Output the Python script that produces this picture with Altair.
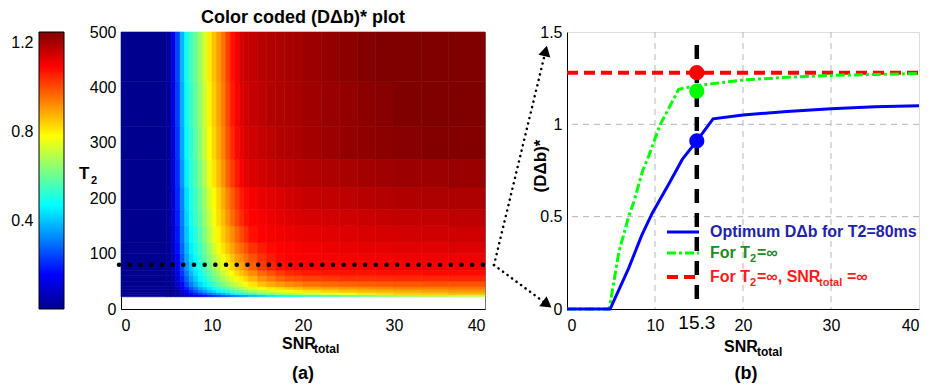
import altair as alt
import pandas as pd

# ---------------- data ----------------
# (a) heat map: cell edges and D* values (rows bottom -> top)
SNR_EDGES = [0, 5, 5.5, 6, 6.5, 7, 7.5, 8, 8.5, 9, 9.5, 10, 10.5, 11, 11.5, 12, 12.5, 13,
             13.5, 14, 15, 16, 17, 18, 19, 20, 22, 24, 26, 28, 30, 33, 36, 40]
T2_EDGES = [22, 26, 30, 35, 40, 50, 60, 70, 85, 100, 120, 150, 180, 220, 270, 330, 410, 500]
D_ROWS = [
    [0, 0, 0, 0.01, 0.03, 0.06, 0.09, 0.12, 0.15, 0.17, 0.19, 0.21, 0.23, 0.25, 0.27, 0.29, 0.31, 0.33, 0.35, 0.38, 0.41, 0.44, 0.46, 0.48, 0.5, 0.53, 0.56, 0.59, 0.61, 0.63, 0.66, 0.68, 0.7],
    [0, 0, 0, 0.02, 0.06, 0.1, 0.15, 0.19, 0.23, 0.27, 0.3, 0.33, 0.36, 0.39, 0.42, 0.45, 0.48, 0.5, 0.53, 0.56, 0.6, 0.63, 0.66, 0.68, 0.7, 0.73, 0.76, 0.78, 0.8, 0.82, 0.84, 0.85, 0.86],
    [0, 0, 0.01, 0.04, 0.09, 0.15, 0.21, 0.26, 0.31, 0.35, 0.39, 0.42, 0.46, 0.49, 0.52, 0.55, 0.58, 0.6, 0.63, 0.67, 0.7, 0.73, 0.75, 0.77, 0.79, 0.81, 0.83, 0.85, 0.86, 0.87, 0.88, 0.89, 0.9],
    [0, 0, 0.01, 0.05, 0.12, 0.19, 0.25, 0.31, 0.36, 0.4, 0.44, 0.48, 0.52, 0.55, 0.58, 0.61, 0.64, 0.67, 0.7, 0.74, 0.77, 0.8, 0.82, 0.84, 0.86, 0.88, 0.89, 0.9, 0.91, 0.92, 0.93, 0.935, 0.94],
    [0, 0, 0.02, 0.08, 0.16, 0.24, 0.31, 0.37, 0.42, 0.46, 0.5, 0.54, 0.58, 0.61, 0.65, 0.68, 0.71, 0.74, 0.77, 0.81, 0.85, 0.88, 0.9, 0.92, 0.93, 0.95, 0.96, 0.97, 0.975, 0.98, 0.985, 0.99, 0.99],
    [0, 0, 0.03, 0.1, 0.19, 0.28, 0.35, 0.41, 0.46, 0.5, 0.54, 0.59, 0.63, 0.67, 0.7, 0.74, 0.77, 0.8, 0.83, 0.87, 0.91, 0.94, 0.97, 0.99, 1.0, 1.01, 1.02, 1.03, 1.03, 1.035, 1.04, 1.04, 1.045],
    [0, 0.01, 0.04, 0.12, 0.22, 0.31, 0.38, 0.44, 0.48, 0.53, 0.58, 0.62, 0.67, 0.71, 0.75, 0.78, 0.82, 0.85, 0.88, 0.92, 0.96, 0.99, 1.02, 1.04, 1.05, 1.06, 1.065, 1.07, 1.07, 1.075, 1.075, 1.08, 1.08],
    [0, 0.01, 0.05, 0.14, 0.24, 0.34, 0.41, 0.46, 0.51, 0.56, 0.61, 0.66, 0.71, 0.75, 0.79, 0.83, 0.86, 0.89, 0.92, 0.97, 1.02, 1.05, 1.07, 1.08, 1.085, 1.09, 1.09, 1.095, 1.095, 1.1, 1.1, 1.1, 1.1],
    [0, 0.01, 0.06, 0.15, 0.26, 0.36, 0.43, 0.48, 0.53, 0.58, 0.63, 0.68, 0.73, 0.77, 0.81, 0.85, 0.89, 0.92, 0.95, 0.99, 1.03, 1.06, 1.08, 1.09, 1.09, 1.095, 1.1, 1.1, 1.105, 1.105, 1.11, 1.11, 1.11],
    [0, 0.01, 0.07, 0.17, 0.28, 0.38, 0.45, 0.5, 0.55, 0.6, 0.66, 0.72, 0.77, 0.81, 0.85, 0.89, 0.93, 0.96, 0.99, 1.03, 1.06, 1.08, 1.09, 1.095, 1.1, 1.105, 1.11, 1.115, 1.12, 1.12, 1.125, 1.125, 1.13],
    [0, 0.02, 0.08, 0.18, 0.3, 0.4, 0.47, 0.52, 0.57, 0.63, 0.69, 0.75, 0.79, 0.84, 0.88, 0.92, 0.96, 1.0, 1.03, 1.07, 1.09, 1.1, 1.105, 1.11, 1.115, 1.12, 1.125, 1.13, 1.135, 1.14, 1.145, 1.15, 1.15],
    [0, 0.02, 0.09, 0.19, 0.31, 0.42, 0.49, 0.54, 0.59, 0.65, 0.71, 0.77, 0.82, 0.86, 0.91, 0.96, 1.0, 1.04, 1.07, 1.09, 1.1, 1.11, 1.12, 1.13, 1.135, 1.14, 1.145, 1.15, 1.155, 1.16, 1.165, 1.165, 1.17],
    [0, 0.02, 0.09, 0.2, 0.32, 0.43, 0.5, 0.55, 0.6, 0.66, 0.73, 0.78, 0.83, 0.88, 0.93, 0.98, 1.02, 1.06, 1.08, 1.1, 1.115, 1.125, 1.135, 1.145, 1.15, 1.16, 1.165, 1.17, 1.175, 1.18, 1.185, 1.19, 1.19],
    [0, 0.02, 0.1, 0.21, 0.34, 0.45, 0.52, 0.57, 0.62, 0.69, 0.76, 0.81, 0.86, 0.91, 0.97, 1.02, 1.06, 1.1, 1.12, 1.135, 1.145, 1.155, 1.165, 1.17, 1.175, 1.18, 1.19, 1.195, 1.2, 1.205, 1.21, 1.21, 1.215],
    [0, 0.02, 0.1, 0.22, 0.36, 0.47, 0.53, 0.58, 0.64, 0.71, 0.78, 0.83, 0.88, 0.93, 0.99, 1.04, 1.08, 1.115, 1.135, 1.15, 1.16, 1.17, 1.18, 1.185, 1.19, 1.2, 1.21, 1.22, 1.225, 1.23, 1.235, 1.24, 1.24],
    [0, 0.02, 0.11, 0.23, 0.37, 0.48, 0.54, 0.59, 0.65, 0.72, 0.79, 0.84, 0.89, 0.94, 1.0, 1.06, 1.09, 1.13, 1.145, 1.16, 1.17, 1.18, 1.185, 1.19, 1.195, 1.205, 1.215, 1.22, 1.23, 1.235, 1.245, 1.245, 1.245],
    [0, 0.02, 0.12, 0.24, 0.38, 0.49, 0.55, 0.6, 0.66, 0.73, 0.8, 0.85, 0.9, 0.95, 1.01, 1.07, 1.1, 1.14, 1.155, 1.165, 1.175, 1.185, 1.19, 1.195, 1.2, 1.21, 1.22, 1.23, 1.24, 1.245, 1.245, 1.245, 1.245],
]
assert len(D_ROWS) == len(T2_EDGES) - 1
for r in D_ROWS:
    assert len(r) == len(SNR_EDGES) - 1, len(r)

COLOR_STOPS = [0, 0.156, 0.467, 0.778, 1.09, 1.245]
JET = ["#00008f", "#0000ff", "#00ffff", "#ffff00", "#ff0000", "#800000"]
CBAR_TICKS = [0.4, 0.8, 1.2]
T2_CUT = 80
HEAT_X_TICKS = [0, 10, 20, 30, 40]
HEAT_Y_TICKS = [0, 100, 200, 300, 400, 500]

# (b) curves
BLUE_SNR = [0, 4.9, 7.0, 8.5, 9.7, 11.6, 13.1, 14.75, 16.6, 20, 25, 30, 35, 40]
BLUE_D = [0, 0, 0.22, 0.4, 0.52, 0.68, 0.81, 0.91, 1.03, 1.05, 1.07, 1.085, 1.095, 1.10]
GREEN_SNR = [0, 4.8, 5.9, 7.0, 7.6, 8.6, 9.3, 10.6, 12.7, 14.75, 20, 25, 30, 35, 40]
GREEN_D = [0, 0, 0.31, 0.5, 0.58, 0.75, 0.83, 1.0, 1.19, 1.21, 1.24, 1.255, 1.265, 1.27, 1.275]
RED_SNR = [0, 40]
RED_D = [1.28, 1.28]
SNR_STAR = 14.75
STAR_LABEL = "15.3"
MARK_D = [1.28, 1.18, 0.91]
MARK_C = ["#ff0000", "#00ff00", "#0000ff"]
VLINE_TOP = 1.43
GRID_X = [10, 20, 30]
GRID_Y = [0.5, 1.0]
B_X_TICKS = [0, 10, 20, 30, 40]
B_Y_TICKS = [0, 0.5, 1, 1.5]

LEG_COLORS = ["#2222aa", "#1f8a1f", "#ff1a1a"]

FONT = "Liberation Sans"

# ---------------- tables ----------------
recs = []
for i, vals in enumerate(D_ROWS):
    for j, v in enumerate(vals):
        recs.append({"x": SNR_EDGES[j], "x2": SNR_EDGES[j + 1],
                     "y": T2_EDGES[i], "y2": T2_EDGES[i + 1], "d": v})
cells = pd.DataFrame(recs)
one = pd.DataFrame({"k": [0]})
CMAX = COLOR_STOPS[-1]
grad_stops = [alt.GradientStop(offset=s / CMAX, color=c) for s, c in zip(COLOR_STOPS, JET)]


def txt(s, x, y, size=16, bold=True, color="black", align="center", baseline="middle", angle=0):
    kw = dict(text=s, font=FONT, fontSize=size, fontWeight="bold" if bold else "normal",
              color=color, align=align, baseline=baseline)
    if angle:
        kw["angle"] = angle
    return alt.Chart(one).mark_text(**kw).encode(x=alt.value(x), y=alt.value(y))


# ---------------- panel (a) ----------------
W1, H1 = 364, 277
xs1 = alt.Scale(domain=[0, 40], nice=False, zero=False)
ys1 = alt.Scale(domain=[0, 500], nice=False)
cscale = alt.Scale(domain=COLOR_STOPS, range=JET, interpolate="rgb")
ax1x = alt.Axis(values=HEAT_X_TICKS, title=None, ticks=False, grid=False, labelFontSize=16,
                labelFont=FONT, labelColor="black", domainColor="black", labelPadding=8)
ax1y = alt.Axis(values=HEAT_Y_TICKS, title=None, ticks=False, grid=False, labelFontSize=16,
                labelFont=FONT, labelColor="black", domainColor="black", labelPadding=5)

rects = alt.Chart(cells).mark_rect(strokeWidth=0.6).encode(
    x=alt.X("x:Q", scale=xs1, axis=ax1x),
    x2="x2:Q",
    y=alt.Y("y:Q", scale=ys1, axis=ax1y),
    y2="y2:Q",
    color=alt.Color("d:Q", scale=cscale, legend=None),
    stroke=alt.Stroke("d:Q", scale=cscale, legend=None),
)

cut = alt.Chart(one).mark_rule(color="black", strokeWidth=4.5, strokeCap="round",
                               strokeDash=[0.1, 10.6]).encode(
    x=alt.value(-2), x2=alt.value(371), y=alt.datum(T2_CUT))

cbar = alt.Chart(one).mark_rect(
    fill=alt.Gradient(gradient="linear", stops=grad_stops, x1=0, x2=0, y1=1, y2=0),
    stroke="black", strokeWidth=1).encode(
    x=alt.value(-82), x2=alt.value(-57),
    y=alt.YDatum(0, type="quantitative", scale=alt.Scale(domain=[0, CMAX], nice=False),
                 axis=alt.Axis(orient="left", offset=82, values=CBAR_TICKS, title=None,
                               ticks=False, domain=False, grid=False, labelFontSize=16,
                               labelFont=FONT, labelColor="black", labelPadding=6)),
    y2=alt.datum(CMAX))

panel_a = alt.layer(
    alt.layer(rects, cut), cbar,
    txt("Color coded (D\u0394b)* plot", 182, -14, size=18),
    txt("T", -42, 147, size=17, align="left", baseline="alphabetic"),
    txt("2", -30, 152, size=11, align="left", baseline="alphabetic"),
    txt("SNR", 161, 317, size=16, align="left", baseline="alphabetic"),
    txt("total", 193, 321, size=12, align="left", baseline="alphabetic"),
    txt("(a)", 182, 342, size=18),
).resolve_scale(y="independent").properties(
    width=W1, height=H1, view=alt.ViewBackground(stroke="#777", strokeWidth=1))

# ---------------- panel (b) ----------------
W2, H2 = 352, 277
xs2 = alt.Scale(domain=[0, 40], nice=False, zero=False)
ys2 = alt.Scale(domain=[0, 1.5], nice=False)
ax2x = alt.Axis(values=B_X_TICKS, title=None, ticks=False, grid=False, labelFontSize=16,
                labelFont=FONT, labelColor="black", domainColor="black", labelPadding=8,
                labelExpr="datum.value")
ax2y = alt.Axis(values=B_Y_TICKS, title=None, ticks=False, grid=False, labelFontSize=16,
                labelFont=FONT, labelColor="black", domainColor="black", labelPadding=5,
                labelExpr="datum.value")

gx = alt.Chart(pd.DataFrame({"g": GRID_X})).mark_rule(
    color="#b5b5b5", strokeWidth=1, strokeDash=[6, 5]).encode(
    x=alt.X("g:Q", scale=xs2, axis=ax2x))
gy = alt.Chart(pd.DataFrame({"g": GRID_Y})).mark_rule(
    color="#b5b5b5", strokeWidth=1, strokeDash=[6, 5]).encode(
    y=alt.Y("g:Q", scale=ys2, axis=ax2y))


def curve(xs, ys, **kw):
    return alt.Chart(pd.DataFrame({"x": xs, "y": ys})).mark_line(**kw).encode(
        x=alt.X("x:Q", scale=xs2, axis=ax2x), y=alt.Y("y:Q", scale=ys2, axis=ax2y))


red = curve(RED_SNR, RED_D, color="#ff0000", strokeWidth=4, strokeDash=[11, 6])
green = curve(GREEN_SNR, GREEN_D, color="#00ff00", strokeWidth=3, strokeDash=[9, 3, 3, 3])
blue = curve(BLUE_SNR, BLUE_D, color="#0000ff", strokeWidth=3)

vline = alt.Chart(one).mark_rule(color="black", strokeWidth=4.5, strokeDash=[14, 10]).encode(
    x=alt.datum(SNR_STAR), y=alt.datum(VLINE_TOP), y2=alt.datum(0))

marks = alt.Chart(pd.DataFrame({"x": [SNR_STAR] * 3, "y": MARK_D, "c": MARK_C})).mark_circle(
    size=230, opacity=1).encode(
    x=alt.X("x:Q", scale=xs2, axis=ax2x), y=alt.Y("y:Q", scale=ys2, axis=ax2y),
    color=alt.Color("c:N", scale=None))

star_lbl = alt.Chart(one).mark_text(text=STAR_LABEL, font=FONT, fontSize=19, color="black").encode(
    x=alt.datum(SNR_STAR), y=alt.value(291))

leg_y = [200, 221, 245]
leg_samples = [
    alt.Chart(one).mark_rule(color="#0000ff", strokeWidth=3).encode(
        x=alt.value(100), x2=alt.value(132), y=alt.value(leg_y[0])),
    alt.Chart(one).mark_rule(color="#00ff00", strokeWidth=3, strokeDash=[9, 3, 3, 3]).encode(
        x=alt.value(100), x2=alt.value(132), y=alt.value(leg_y[1])),
    alt.Chart(one).mark_rule(color="#ff0000", strokeWidth=4, strokeDash=[11, 6]).encode(
        x=alt.value(100), x2=alt.value(132), y=alt.value(leg_y[2])),
]
leg_texts = [
    txt("Optimum D\u0394b for T2=80ms", 143, leg_y[0], size=16, color=LEG_COLORS[0], align="left"),
    txt("For T", 143, leg_y[1], size=16, color=LEG_COLORS[1], align="left"),
    txt("2", 183, leg_y[1] + 9, size=11, color=LEG_COLORS[1], align="left", baseline="alphabetic"),
    txt("=\u221e", 190, leg_y[1], size=16, color=LEG_COLORS[1], align="left"),
    txt("For T", 143, leg_y[2], size=16, color=LEG_COLORS[2], align="left"),
    txt("2", 183, leg_y[2] + 9, size=11, color=LEG_COLORS[2], align="left", baseline="alphabetic"),
    txt("=\u221e, SNR", 190, leg_y[2], size=16, color=LEG_COLORS[2], align="left"),
    txt("total", 252, leg_y[2] + 9, size=11, color=LEG_COLORS[2], align="left", baseline="alphabetic"),
    txt("=\u221e", 280, leg_y[2], size=16, color=LEG_COLORS[2], align="left"),
]

# dotted arrows from panel (a) to panel (b) (pixel offsets relative to panel b)
arrows = [
    alt.Chart(one).mark_rule(color="black", strokeWidth=2.5, strokeCap="round",
                             strokeDash=[0.1, 5.5]).encode(
        x=alt.value(-73), y=alt.value(233), x2=alt.value(-21.4), y2=alt.value(19)),
    alt.Chart(one).mark_rule(color="black", strokeWidth=2.5, strokeCap="round",
                             strokeDash=[0.1, 5.5]).encode(
        x=alt.value(-73), y=alt.value(233), x2=alt.value(-19.8), y2=alt.value(272.4)),
    alt.Chart(one).mark_point(shape="triangle-up", filled=True, color="black", opacity=1,
                              size=150, angle=13.7).encode(x=alt.value(-21.4), y=alt.value(19)),
    alt.Chart(one).mark_point(shape="triangle-up", filled=True, color="black", opacity=1,
                              size=150, angle=126.6).encode(x=alt.value(-19.8), y=alt.value(272.4)),
]

panel_b = alt.layer(
    gx, gy, red, green, blue, vline, marks, star_lbl, *leg_samples, *leg_texts,
    txt("(D\u0394b)*", -26, 134, size=17, angle=270),
    txt("SNR", 157, 320, size=16, align="left", baseline="alphabetic"),
    txt("total", 190, 324, size=12, align="left", baseline="alphabetic"),
    txt("(b)", 179, 342, size=18),
    *arrows,
).properties(width=W2, height=H2)

chart = alt.hconcat(panel_a, panel_b, spacing=82, bounds="flush").properties(
    padding={"left": 2, "top": 0, "right": 4, "bottom": 0}
).configure_view(stroke=None).configure(background="white")

chart.save("out.html", embed_options={"renderer": "svg", "actions": False})
